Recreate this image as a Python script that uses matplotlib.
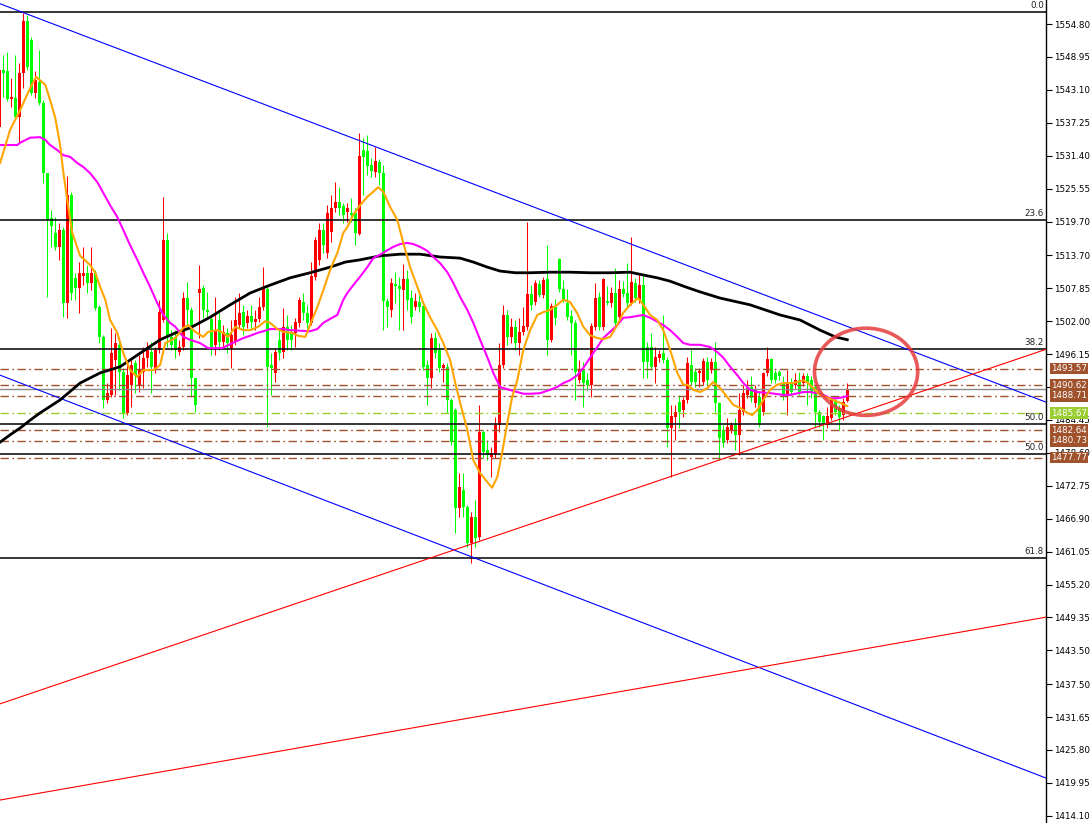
import numpy as np
import matplotlib
matplotlib.use("Agg")
import matplotlib.pyplot as plt
from matplotlib.patches import Ellipse
import matplotlib.transforms as mtransforms

# ---- candle data (one value per bar, oldest first) ----
opens = [
    1536.5, 1546.6, 1546.5, 1541.5, 1541.7, 1538.3, 1546.1, 1555.3, 1552.0, 1542.5,
    1544.5, 1540.8, 1528.3, 1520.3, 1517.7, 1515.2, 1518.2, 1505.2, 1524.4, 1509.7,
    1507.9, 1510.0, 1510.6, 1508.8, 1510.6, 1504.5, 1499.2, 1488.0, 1488.9, 1495.1,
    1497.8, 1493.0, 1485.7, 1490.7, 1494.6, 1490.7, 1493.0, 1495.5, 1496.5, 1493.3,
    1496.9, 1502.2, 1516.4, 1499.2, 1499.2, 1496.5, 1497.4, 1506.1, 1504.0, 1491.9,
    1507.0, 1507.9, 1504.0, 1502.4, 1497.8, 1502.2, 1498.3, 1499.9, 1497.2, 1498.3,
    1501.3, 1503.6, 1501.7, 1502.9, 1501.8, 1502.4, 1504.5, 1507.7, 1494.2, 1492.8,
    1498.7, 1496.5, 1501.0, 1500.1, 1499.9, 1501.7, 1505.4, 1503.4, 1501.7, 1509.9,
    1512.9, 1518.2, 1514.1, 1517.8, 1522.1, 1523.2, 1522.5, 1521.4, 1521.2, 1521.2,
    1517.5, 1532.4, 1532.2, 1529.7, 1528.5, 1530.3, 1528.3, 1505.6, 1504.0, 1508.6,
    1508.2, 1507.5, 1509.5, 1506.1, 1504.5, 1505.4, 1504.7, 1494.2, 1491.9, 1499.0,
    1496.9, 1493.7, 1493.9, 1488.0, 1486.2, 1468.8, 1472.0, 1469.0, 1462.6, 1467.2,
    1463.6, 1482.3, 1479.1, 1477.9, 1478.2, 1483.5, 1494.2, 1503.1, 1499.2, 1501.0,
    1498.1, 1500.1, 1501.0, 1506.8, 1505.4, 1508.6, 1506.6, 1509.5, 1498.7, 1504.5,
    1513.0, 1507.7, 1505.2, 1502.9, 1501.7, 1491.5, 1493.3, 1491.5, 1490.7, 1501.0,
    1506.3, 1501.0, 1505.6, 1505.2, 1507.0, 1502.7, 1507.7, 1507.0, 1505.2, 1508.8,
    1505.8, 1508.4, 1497.4, 1497.4, 1493.9, 1495.5, 1496.3, 1495.1, 1483.0, 1485.0,
    1487.6, 1486.2, 1488.0, 1494.2, 1493.0, 1492.8, 1491.2, 1494.7, 1493.3, 1494.7,
    1487.5, 1482.7, 1480.9, 1482.7, 1483.5, 1481.8, 1485.9, 1488.9, 1490.3, 1487.5,
    1488.5, 1485.9, 1492.8, 1495.3, 1492.8, 1493.0, 1491.0, 1488.9, 1491.0, 1490.7,
    1491.5, 1491.0, 1492.3, 1491.5, 1490.3, 1485.9, 1485.1, 1483.5, 1484.8, 1488.0,
    1486.6, 1485.3, 1487.8,
]
highs = [
    1547.3, 1549.3, 1549.8, 1545.2, 1549.3, 1547.9, 1556.8, 1556.4, 1552.5, 1546.5,
    1550.2, 1541.3, 1528.3, 1521.8, 1520.5, 1519.4, 1518.7, 1527.8, 1525.0, 1510.6,
    1512.5, 1515.2, 1512.0, 1515.2, 1511.1, 1504.9, 1499.5, 1491.0, 1500.8, 1499.9,
    1499.2, 1493.7, 1494.7, 1495.1, 1495.1, 1496.0, 1497.4, 1498.3, 1498.3, 1497.4,
    1505.8, 1524.0, 1517.7, 1500.4, 1500.4, 1498.7, 1507.2, 1508.9, 1504.5, 1491.9,
    1512.0, 1508.4, 1507.2, 1502.7, 1506.3, 1504.0, 1501.3, 1500.8, 1502.2, 1506.3,
    1507.0, 1504.9, 1504.0, 1504.9, 1504.0, 1506.3, 1511.6, 1508.1, 1496.3, 1497.2,
    1500.4, 1504.3, 1503.1, 1501.3, 1502.6, 1506.3, 1507.0, 1504.9, 1512.5, 1517.0,
    1519.4, 1519.4, 1522.6, 1524.4, 1526.7, 1525.8, 1523.0, 1523.0, 1523.9, 1522.1,
    1535.4, 1534.5, 1535.1, 1531.0, 1533.0, 1530.8, 1529.7, 1506.1, 1509.7, 1510.7,
    1509.9, 1512.2, 1511.1, 1507.5, 1507.0, 1507.0, 1505.2, 1495.1, 1499.9, 1500.1,
    1498.1, 1494.6, 1494.6, 1488.3, 1486.6, 1475.0, 1475.0, 1469.3, 1468.1, 1470.2,
    1487.1, 1482.7, 1480.9, 1479.6, 1485.0, 1498.1, 1504.9, 1504.0, 1502.6, 1502.2,
    1502.6, 1504.5, 1519.6, 1508.4, 1509.3, 1509.3, 1509.9, 1515.5, 1505.2, 1505.9,
    1513.2, 1509.3, 1507.7, 1504.0, 1502.2, 1495.1, 1494.7, 1492.8, 1501.7, 1508.8,
    1507.2, 1509.7, 1508.2, 1508.1, 1511.4, 1509.3, 1509.1, 1512.3, 1517.0, 1509.7,
    1510.6, 1510.6, 1498.3, 1499.9, 1497.4, 1496.9, 1503.1, 1495.6, 1487.1, 1487.1,
    1488.9, 1488.5, 1495.6, 1496.9, 1493.7, 1493.7, 1495.5, 1495.6, 1495.5, 1498.3,
    1487.6, 1483.5, 1484.8, 1484.1, 1484.8, 1489.2, 1490.7, 1491.5, 1492.3, 1490.7,
    1489.4, 1493.0, 1497.4, 1495.5, 1493.3, 1493.3, 1492.3, 1493.3, 1491.9, 1492.8,
    1493.0, 1492.8, 1492.8, 1492.3, 1490.7, 1486.2, 1485.3, 1486.7, 1488.3, 1488.5,
    1487.1, 1488.3, 1491.0,
]
lows = [
    1535.8, 1541.8, 1541.1, 1540.0, 1538.1, 1533.8, 1543.4, 1546.6, 1542.2, 1541.7,
    1540.4, 1526.5, 1506.3, 1515.2, 1514.6, 1512.9, 1502.7, 1502.6, 1505.8, 1505.8,
    1503.4, 1508.4, 1507.0, 1507.5, 1504.0, 1498.1, 1486.6, 1487.5, 1488.5, 1488.9,
    1489.8, 1484.8, 1485.3, 1486.7, 1489.2, 1489.4, 1490.1, 1493.9, 1489.2, 1492.8,
    1496.3, 1501.8, 1497.4, 1496.9, 1495.5, 1496.0, 1496.9, 1501.3, 1488.5, 1485.9,
    1499.0, 1502.6, 1502.7, 1496.0, 1496.0, 1496.9, 1497.2, 1496.3, 1493.7, 1497.8,
    1500.8, 1499.5, 1500.8, 1500.4, 1500.4, 1501.8, 1504.0, 1483.2, 1488.9, 1491.2,
    1495.1, 1495.5, 1496.9, 1496.9, 1497.4, 1501.0, 1502.2, 1500.4, 1501.3, 1509.3,
    1512.0, 1514.1, 1513.2, 1516.1, 1521.4, 1520.9, 1519.4, 1519.6, 1519.6, 1515.5,
    1517.3, 1524.4, 1528.0, 1527.6, 1527.6, 1526.2, 1500.4, 1501.0, 1502.7, 1505.2,
    1500.4, 1500.4, 1504.0, 1501.7, 1504.0, 1503.6, 1493.3, 1487.1, 1490.1, 1495.5,
    1493.0, 1491.2, 1485.7, 1480.0, 1464.4, 1467.2, 1467.2, 1461.9, 1459.0, 1461.9,
    1463.1, 1477.7, 1477.3, 1474.3, 1477.7, 1482.3, 1493.7, 1497.8, 1498.1, 1496.9,
    1495.9, 1499.5, 1500.4, 1504.0, 1504.9, 1506.3, 1506.1, 1495.9, 1498.3, 1501.3,
    1507.2, 1505.4, 1502.2, 1495.9, 1488.0, 1491.0, 1486.7, 1489.8, 1488.5, 1500.4,
    1500.4, 1500.4, 1504.9, 1504.5, 1501.3, 1502.2, 1506.3, 1504.5, 1504.9, 1505.4,
    1505.2, 1491.9, 1491.9, 1493.3, 1491.0, 1494.7, 1494.6, 1479.6, 1474.3, 1480.9,
    1483.0, 1485.0, 1487.5, 1490.7, 1490.3, 1490.3, 1490.7, 1490.7, 1492.8, 1485.9,
    1477.3, 1479.6, 1480.3, 1482.1, 1479.1, 1478.2, 1485.3, 1488.3, 1487.6, 1486.7,
    1483.2, 1485.3, 1492.3, 1491.0, 1491.0, 1491.5, 1488.0, 1485.3, 1488.9, 1490.1,
    1488.9, 1490.5, 1487.1, 1488.3, 1483.2, 1483.2, 1480.9, 1483.0, 1484.4, 1485.3,
    1482.7, 1484.4, 1487.6,
]
closes = [
    1546.6, 1546.1, 1541.5, 1541.8, 1538.3, 1546.1, 1555.3, 1547.2, 1542.5, 1544.9,
    1540.8, 1528.3, 1520.0, 1518.9, 1515.2, 1518.2, 1505.2, 1524.4, 1507.0, 1507.9,
    1510.6, 1510.6, 1508.8, 1510.6, 1504.3, 1499.2, 1488.0, 1489.2, 1496.3, 1498.1,
    1493.0, 1485.7, 1492.4, 1494.2, 1492.4, 1493.3, 1495.5, 1497.4, 1493.9, 1496.9,
    1503.6, 1516.4, 1499.2, 1497.8, 1496.9, 1497.4, 1506.1, 1504.0, 1491.9, 1487.1,
    1507.7, 1504.0, 1503.6, 1497.4, 1500.4, 1498.3, 1500.1, 1498.1, 1499.5, 1502.2,
    1503.4, 1501.0, 1502.9, 1501.8, 1502.4, 1504.5, 1507.9, 1493.9, 1493.7, 1496.5,
    1496.3, 1501.0, 1498.7, 1498.7, 1501.8, 1505.8, 1503.4, 1501.7, 1510.0, 1516.4,
    1518.2, 1515.5, 1521.2, 1522.1, 1523.2, 1522.1, 1520.9, 1522.1, 1520.9, 1517.7,
    1531.3, 1531.2, 1529.6, 1528.7, 1530.5, 1528.3, 1505.6, 1504.5, 1508.8, 1508.2,
    1507.7, 1509.5, 1505.8, 1502.7, 1505.6, 1504.5, 1493.9, 1491.9, 1499.0, 1496.3,
    1493.7, 1494.2, 1488.0, 1480.5, 1468.8, 1472.5, 1469.0, 1462.6, 1467.2, 1463.5,
    1482.3, 1478.7, 1478.2, 1478.6, 1483.5, 1494.2, 1503.1, 1499.2, 1501.0, 1498.1,
    1500.1, 1501.1, 1506.8, 1504.9, 1508.8, 1506.6, 1509.3, 1498.7, 1504.7, 1502.6,
    1507.7, 1505.8, 1502.7, 1501.7, 1493.0, 1493.3, 1491.0, 1490.7, 1501.1, 1506.1,
    1501.0, 1509.5, 1505.2, 1507.0, 1501.7, 1507.7, 1506.8, 1505.2, 1509.0, 1506.1,
    1508.4, 1494.7, 1494.7, 1493.9, 1495.6, 1496.2, 1495.1, 1483.0, 1485.1, 1485.9,
    1485.9, 1488.0, 1494.6, 1491.2, 1491.2, 1493.1, 1494.9, 1491.5, 1494.7, 1487.5,
    1481.2, 1480.3, 1483.2, 1483.5, 1481.8, 1486.2, 1489.2, 1490.1, 1488.3, 1489.9,
    1483.5, 1492.8, 1495.3, 1491.5, 1491.5, 1492.3, 1488.9, 1491.0, 1489.4, 1491.5,
    1489.4, 1492.3, 1491.0, 1489.2, 1485.9, 1484.1, 1483.5, 1485.1, 1488.0, 1485.9,
    1485.0, 1487.6, 1489.9,
]

# ---- moving averages (bar index, price) ----
ma_fast_idx = [
    0.2, 2.7, 5.2, 7.7, 9.2, 11.5, 12.7, 14.0, 15.2, 16.0,
    17.0, 18.2, 20.2, 22.7, 24.0, 25.2, 26.5, 27.7, 29.5, 31.0,
    32.7, 34.5, 36.0, 38.5, 40.2, 41.5, 44.0, 46.0, 47.2, 49.0,
    51.0, 52.2, 54.5, 56.0, 57.2, 59.0, 61.0, 62.7, 64.7, 66.5,
    67.7, 69.5, 71.0, 73.2, 74.7, 76.5, 77.7, 79.5, 81.0, 82.7,
    84.5, 86.0, 87.0, 88.5, 90.2, 92.0, 93.5, 94.7, 96.0, 97.7,
    99.5, 101.0, 102.7, 104.5, 106.0, 107.7, 109.5, 111.0, 112.7, 114.0,
    115.2, 117.0, 118.5, 120.2, 122.0, 123.2, 124.5, 125.7, 127.0, 128.2,
    129.5, 131.0, 132.7, 134.5, 136.0, 137.7, 139.5, 141.0, 142.7, 144.5,
    146.0, 147.7, 149.5, 151.0, 152.7, 154.5, 156.0, 157.7, 159.7, 161.0,
    162.7, 164.5, 166.0, 167.7, 169.5, 171.0, 172.0, 173.5, 175.2, 177.0,
    178.5, 180.2, 182.0, 183.5, 185.2, 187.0, 188.2, 189.5, 191.0, 192.7,
    194.5, 196.0, 198.5, 201.0, 202.2, 203.5, 205.2, 207.0, 208.5, 210.2,
    212.0,
]
ma_fast = [
    1530.1, 1536.0, 1539.5, 1543.4, 1545.4, 1544.0, 1541.3, 1538.1, 1533.3, 1528.5,
    1523.5, 1517.8, 1513.6, 1512.0, 1510.6, 1508.1, 1505.8, 1502.2, 1499.9, 1496.3,
    1493.3, 1492.1, 1493.3, 1493.3, 1494.2, 1498.1, 1499.0, 1500.8, 1501.3, 1500.1,
    1499.2, 1500.1, 1500.4, 1499.9, 1499.2, 1501.0, 1500.4, 1500.4, 1501.0, 1502.0,
    1501.7, 1500.6, 1500.1, 1499.9, 1499.4, 1499.2, 1501.3, 1504.5, 1507.5, 1511.1,
    1514.1, 1517.7, 1518.7, 1520.9, 1522.6, 1524.1, 1525.0, 1525.8, 1525.0, 1522.3,
    1520.0, 1515.9, 1511.6, 1508.1, 1505.2, 1502.7, 1500.4, 1498.1, 1495.1, 1491.0,
    1487.5, 1482.7, 1477.3, 1475.0, 1473.4, 1472.4, 1474.3, 1478.6, 1483.9, 1488.5,
    1491.5, 1496.9, 1500.4, 1503.1, 1503.6, 1504.0, 1504.9, 1505.8, 1505.4, 1503.4,
    1501.0, 1499.5, 1499.0, 1498.8, 1499.2, 1501.3, 1503.5, 1504.9, 1506.1, 1504.9,
    1503.1, 1502.2, 1500.4, 1496.9, 1492.8, 1490.7, 1490.7, 1489.8, 1489.4, 1490.1,
    1491.2, 1490.1, 1488.5, 1487.1, 1486.6, 1485.7, 1485.3, 1486.2, 1488.0, 1489.8,
    1490.7, 1491.0, 1491.0, 1491.5, 1491.0, 1490.1, 1488.9, 1488.4, 1488.0, 1487.5,
    1486.9,
]
ma_mid_idx = [
    0.2, 4.5, 5.2, 7.7, 10.2, 11.5, 12.7, 14.5, 16.0, 17.7,
    19.5, 21.0, 22.7, 24.5, 26.0, 27.7, 29.5, 31.0, 32.7, 34.5,
    36.0, 37.7, 39.5, 41.0, 42.7, 44.0, 46.0, 47.7, 50.2, 52.2,
    55.7, 57.7, 59.5, 61.0, 62.7, 64.5, 66.0, 67.7, 71.0, 72.7,
    77.7, 79.5, 81.0, 82.7, 84.5, 86.0, 87.0, 88.5, 90.2, 92.0,
    93.5, 95.2, 97.0, 98.5, 100.2, 102.0, 103.5, 105.2, 107.0, 108.5,
    110.2, 112.0, 113.5, 115.2, 117.0, 118.5, 120.2, 122.0, 123.5, 125.2,
    127.0, 128.5, 131.0, 132.7, 135.2, 137.7, 139.5, 141.0, 142.7, 144.5,
    146.0, 147.7, 149.5, 151.0, 152.7, 154.5, 156.0, 157.7, 161.0, 162.7,
    164.5, 166.0, 167.7, 169.5, 171.0, 172.7, 175.2, 177.7, 179.5, 181.0,
    182.7, 184.5, 186.0, 187.7, 189.5, 192.7, 196.0, 197.7, 201.0, 202.7,
    204.5, 206.0, 207.7, 209.5, 211.0, 212.0,
]
ma_mid = [
    1533.3, 1533.3, 1533.7, 1534.6, 1534.7, 1534.2, 1533.3, 1532.4, 1531.5, 1531.2,
    1530.1, 1529.4, 1528.3, 1526.7, 1524.8, 1522.6, 1520.5, 1518.2, 1515.5, 1512.9,
    1510.6, 1508.1, 1505.2, 1503.1, 1501.7, 1501.0, 1499.2, 1498.7, 1498.1, 1497.2,
    1497.2, 1497.9, 1498.5, 1499.0, 1499.4, 1499.9, 1500.2, 1500.6, 1500.6, 1500.4,
    1500.2, 1500.6, 1501.7, 1502.4, 1503.1, 1505.8, 1507.0, 1508.4, 1509.9, 1511.6,
    1513.2, 1513.8, 1514.6, 1515.2, 1515.7, 1515.9, 1515.7, 1515.2, 1514.5, 1513.4,
    1512.3, 1510.7, 1508.8, 1506.3, 1504.0, 1501.7, 1498.7, 1495.6, 1492.8, 1490.3,
    1489.9, 1489.6, 1489.1, 1489.1, 1489.2, 1489.8, 1490.3, 1491.0, 1491.5, 1492.4,
    1493.7, 1495.5, 1497.4, 1499.0, 1500.1, 1501.3, 1502.6, 1502.7, 1503.1, 1502.6,
    1501.9, 1501.3, 1500.4, 1499.2, 1498.1, 1497.8, 1497.8, 1497.4, 1496.5, 1495.5,
    1493.9, 1492.4, 1491.0, 1489.8, 1489.4, 1489.2, 1488.9, 1488.9, 1489.4, 1489.4,
    1489.2, 1488.9, 1488.3, 1488.3, 1488.5, 1488.7,
]
ma_slow_idx = [
    0.2, 2.7, 5.2, 7.7, 10.2, 15.2, 20.2, 25.2, 30.2, 35.2,
    40.2, 44.0, 47.7, 52.7, 57.7, 62.7, 67.7, 72.7, 77.7, 82.7,
    86.5, 90.2, 95.2, 100.2, 105.2, 110.2, 115.2, 118.5, 122.0, 125.2,
    129.0, 132.7, 137.7, 142.7, 147.7, 152.7, 157.7, 161.0, 164.5, 167.7,
    171.5, 175.2, 180.2, 187.7, 195.2, 200.2, 205.2, 209.0, 212.0,
]
ma_slow = [
    1480.5, 1481.8, 1483.0, 1484.4, 1485.7, 1488.0, 1491.0, 1492.8, 1493.9, 1496.3,
    1498.7, 1499.9, 1500.8, 1502.7, 1504.9, 1507.0, 1508.4, 1509.7, 1510.6, 1511.6,
    1512.5, 1512.9, 1513.6, 1513.9, 1513.9, 1513.4, 1513.2, 1512.5, 1511.6, 1510.9,
    1510.6, 1510.6, 1510.7, 1510.7, 1510.6, 1510.6, 1510.7, 1510.2, 1509.7, 1509.1,
    1508.1, 1507.2, 1506.1, 1504.9, 1503.1, 1502.2, 1500.4, 1499.2, 1498.7,
]

# ---- levels, trend lines, axis ----
price_ticks = [1554.80, 1548.95, 1543.10, 1537.25, 1531.40, 1525.55, 1519.70,
               1513.70, 1507.85, 1502.00, 1496.15, 1490.30, 1484.45, 1478.60,
               1472.75, 1466.90, 1461.05, 1455.20, 1449.35, 1443.50, 1437.50,
               1431.65, 1425.80, 1419.95, 1414.10]
hidden_ticks = [1490.30]  # fully covered by the price boxes in the original
fib_prices = [1557.0, 1519.95, 1497.0, 1483.7, 1478.45, 1459.9]
fib_names = ["0.0", "23.6", "38.2", "50.0", "50.0", "61.8"]
level_prices = [1493.57, 1490.62, 1488.71, 1482.64, 1480.73, 1477.77]
bid_price = 1485.67
last_price = 1489.93
# (start bar, start price, end bar, end price)
blue_lines = [(0.2, 1558.4, 261.7, 1487.6), (0.2, 1492.4, 261.7, 1420.8)]
red_lines = [(0.2, 1434.0, 261.7, 1497.0), (0.2, 1416.9, 261.7, 1449.4)]
circle_center = (216.7, 1493.0)
circle_size = (25.8, 15.5)

W, H = 1092, 823
fig = plt.figure(figsize=(W / 100, H / 100), dpi=100)
fig.patch.set_facecolor("white")
ax = fig.add_axes([0, 0, 1046 / W, 1])
ax.set_xlim(0.175, 261.675)
ax.set_ylim(1412.82, 1559.07)

# candles: red = up bar, green = down bar
o = np.array(opens)
c = np.array(closes)
hi = np.array(highs)
lo = np.array(lows)
x = np.arange(len(c))
cols = np.where(c >= o, "#ff0000", "#00ff00")
ax.vlines(x, lo, hi, colors=cols, lw=0.75, zorder=2)
body_h = np.maximum(np.abs(c - o), 0.18)
ax.bar(x, body_h, bottom=np.minimum(o, c), width=0.72, color=cols,
       linewidth=0, zorder=2)

# horizontal levels
for p in level_prices:
    ax.axhline(p, color="#a0522d", lw=1.0, dashes=(6, 2.5, 1.2, 2.5), zorder=3)
ax.axhline(bid_price, color="#9acd32", lw=1.0, dashes=(6, 2.5, 1.2, 2.5), zorder=3)
ax.axhline(last_price, color="#8a8a8a", lw=1.0, zorder=3)

trans = mtransforms.blended_transform_factory(ax.transAxes, ax.transData)
for p, name in zip(fib_prices, fib_names):
    ax.axhline(p, color="black", lw=1.1, zorder=3)
    ax.text(0.998, p + 0.35, name, transform=trans, ha="right", va="bottom",
            fontsize=6.3, color="#222222", zorder=6)

# trend lines
for x0, y0, x1, y1 in blue_lines:
    ax.plot([x0, x1], [y0, y1], color="#0000ff", lw=0.8, zorder=3)
for x0, y0, x1, y1 in red_lines:
    ax.plot([x0, x1], [y0, y1], color="#ff0000", lw=0.8, zorder=3)

# moving averages
ax.plot(ma_slow_idx, ma_slow, color="black", lw=2.0, zorder=4)
ax.plot(ma_mid_idx, ma_mid, color="#ff00ff", lw=1.5, zorder=4)
ax.plot(ma_fast_idx, ma_fast, color="#ffa500", lw=1.5, zorder=4)

# highlight circle
ax.add_patch(Ellipse(circle_center, circle_size[0], circle_size[1], fill=False,
                     ec="#e63c3c", lw=2.6, alpha=0.85, zorder=8))

# right price scale
ax.yaxis.tick_right()
ax.set_yticks(price_ticks)
ax.set_yticklabels(["" if t in hidden_ticks else f"{t:.2f}" for t in price_ticks])
ax.tick_params(axis="y", direction="out", length=4, width=0.8, labelsize=6.3,
               pad=2, colors="black")
ax.set_xticks([])
for side in ("top", "left", "bottom"):
    ax.spines[side].set_visible(False)
ax.spines["right"].set_linewidth(1.0)

# price boxes on the scale
box_kw = dict(xycoords=trans, xytext=(3.5, 0), textcoords="offset points",
              ha="left", va="center", fontsize=6.3, color="white",
              annotation_clip=False, zorder=10)
for p in level_prices:
    ax.annotate(f"{p:.2f}", xy=(1.0, p),
                bbox=dict(boxstyle="square,pad=0.15", fc="#a0522d", ec="none"),
                **box_kw)
ax.annotate(f"{bid_price:.2f}", xy=(1.0, bid_price),
            bbox=dict(boxstyle="square,pad=0.15", fc="#9acd32", ec="none"),
            **box_kw)

fig.savefig("out.png", dpi=100, facecolor="white")
